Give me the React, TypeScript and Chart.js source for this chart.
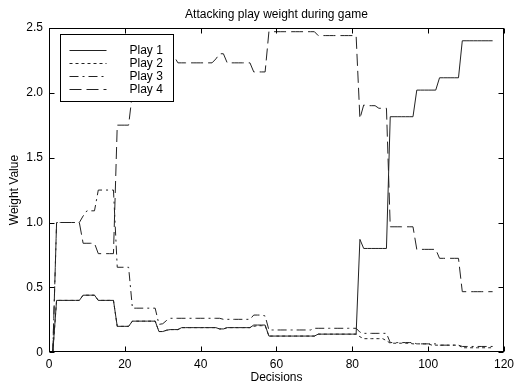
import React, { useEffect, useRef } from "react";
import { Chart, registerables } from "chart.js";

Chart.register(...registerables);

const seriesNames = ["Play 1", "Play 2", "Play 3", "Play 4"];

// values for decisions 1..117
const play1 = [
  0, 0.4, 0.4, 0.4, 0.4, 0.4, 0.4, 0.4, 0.44, 0.44,
  0.44, 0.44, 0.4, 0.4, 0.4, 0.4, 0.4, 0.2, 0.2, 0.2,
  0.2, 0.24, 0.24, 0.24, 0.24, 0.24, 0.24, 0.24, 0.16, 0.16,
  0.17, 0.175, 0.175, 0.175, 0.19, 0.19, 0.19, 0.19, 0.19, 0.19,
  0.19, 0.19, 0.19, 0.19, 0.18, 0.18, 0.19, 0.19, 0.19, 0.19,
  0.19, 0.19, 0.19, 0.21, 0.21, 0.21, 0.21, 0.125, 0.125, 0.125,
  0.125, 0.125, 0.125, 0.125, 0.125, 0.125, 0.125, 0.125, 0.125, 0.125,
  0.14, 0.14, 0.14, 0.14, 0.14, 0.14, 0.14, 0.14, 0.14, 0.14,
  0.14, 0.87, 0.8, 0.8, 0.8, 0.8, 0.8, 0.8, 0.8, 1.815,
  1.815, 1.815, 1.815, 1.815, 1.815, 1.815, 2.02, 2.02, 2.02, 2.02,
  2.02, 2.02, 2.115, 2.115, 2.115, 2.115, 2.115, 2.115, 2.4, 2.4,
  2.4, 2.4, 2.4, 2.4, 2.4, 2.4, 2.4,
];

const play2 = [
  0, 0.4, 0.4, 0.4, 0.4, 0.4, 0.4, 0.4, 0.44, 0.44,
  0.44, 0.44, 0.4, 0.4, 0.4, 0.4, 0.4, 0.2, 0.2, 0.2,
  0.2, 0.24, 0.24, 0.24, 0.24, 0.24, 0.24, 0.24, 0.16, 0.16,
  0.17, 0.175, 0.175, 0.175, 0.19, 0.19, 0.19, 0.19, 0.19, 0.19,
  0.19, 0.19, 0.19, 0.19, 0.18, 0.18, 0.19, 0.19, 0.19, 0.19,
  0.19, 0.19, 0.19, 0.2, 0.205, 0.205, 0.205, 0.125, 0.125, 0.125,
  0.125, 0.125, 0.125, 0.125, 0.125, 0.125, 0.125, 0.125, 0.125, 0.125,
  0.14, 0.14, 0.14, 0.14, 0.14, 0.14, 0.14, 0.14, 0.14, 0.14,
  0.14, 0.12, 0.105, 0.105, 0.105, 0.105, 0.105, 0.105, 0.09, 0.07,
  0.07, 0.07, 0.07, 0.07, 0.07, 0.065, 0.065, 0.065, 0.065, 0.065,
  0.055, 0.055, 0.055, 0.055, 0.055, 0.055, 0.055, 0.055, 0.035, 0.035,
  0.035, 0.035, 0.035, 0.035, 0.035, 0.035, 0.035,
];

const play3 = [
  0, 1.0, 1.0, 1.0, 1.0, 1.0, 1.0, 1.0, 1.05, 1.09,
  1.09, 1.09, 1.25, 1.25, 1.25, 1.25, 1.25, 0.655, 0.655, 0.655,
  0.655, 0.34, 0.34, 0.34, 0.34, 0.34, 0.34, 0.34, 0.215, 0.22,
  0.245, 0.262, 0.262, 0.262, 0.262, 0.262, 0.262, 0.262, 0.262, 0.262,
  0.262, 0.262, 0.262, 0.262, 0.262, 0.254, 0.254, 0.254, 0.254, 0.254,
  0.254, 0.254, 0.254, 0.287, 0.287, 0.287, 0.28, 0.172, 0.172, 0.172,
  0.172, 0.172, 0.172, 0.172, 0.172, 0.172, 0.172, 0.172, 0.172, 0.185,
  0.185, 0.185, 0.185, 0.185, 0.185, 0.185, 0.185, 0.185, 0.185, 0.185,
  0.185, 0.155, 0.146, 0.146, 0.146, 0.146, 0.146, 0.146, 0.146, 0.075,
  0.075, 0.075, 0.075, 0.075, 0.075, 0.075, 0.065, 0.065, 0.065, 0.065,
  0.065, 0.065, 0.055, 0.055, 0.055, 0.055, 0.055, 0.055, 0.045, 0.045,
  0.045, 0.045, 0.045, 0.045, 0.045, 0.045, 0.045,
];

const play4 = [
  0, 1.0, 1.0, 1.0, 1.0, 1.0, 1.0, 1.0, 0.84, 0.84,
  0.84, 0.84, 0.76, 0.76, 0.76, 0.76, 0.76, 1.75, 1.75, 1.75,
  1.75, 2.0, 2.2, 2.28, 2.28, 2.28, 2.28, 2.28, 2.28, 2.28,
  2.28, 2.28, 2.28, 2.23, 2.23, 2.23, 2.23, 2.23, 2.23, 2.23,
  2.23, 2.23, 2.23, 2.26, 2.3, 2.3, 2.23, 2.23, 2.23, 2.23,
  2.23, 2.23, 2.23, 2.16, 2.16, 2.16, 2.16, 2.47, 2.47, 2.47,
  2.47, 2.47, 2.47, 2.47, 2.47, 2.47, 2.47, 2.47, 2.47, 2.47,
  2.44, 2.44, 2.44, 2.44, 2.44, 2.44, 2.44, 2.44, 2.44, 2.44,
  2.44, 1.8, 1.905, 1.9, 1.9, 1.9, 1.88, 1.88, 1.88, 0.967,
  0.967, 0.967, 0.967, 0.967, 0.967, 0.967, 0.793, 0.793, 0.793, 0.793,
  0.793, 0.793, 0.724, 0.724, 0.724, 0.724, 0.724, 0.724, 0.467, 0.467,
  0.467, 0.467, 0.467, 0.467, 0.467, 0.467, 0.467,
];

const xTickValues = [0, 20, 40, 60, 80, 100, 120];
const yTickValues = [0, 0.5, 1, 1.5, 2, 2.5];

const titleText = "Attacking play weight during game";
const xTitle = "Decisions";
const yTitle = "Weight Value";

const FONT = "'Liberation Sans', Arial, Helvetica, sans-serif";
const LINE = "#222";
const dashes: number[][] = [[], [3, 3], [9, 4, 2, 4], [12, 5]];

const toPoints = (arr: number[]) => arr.map((v, i) => ({ x: i + 1, y: v }));

const framePlugin = {
  id: "matlabFrame",
  afterDatasetsDraw(chart: any) {
    const { ctx, chartArea, scales } = chart;
    const l = Math.round(chartArea.left) + 0.5;
    const r = Math.round(chartArea.right) - 0.5;
    const t = Math.round(chartArea.top) + 0.5;
    const b = Math.round(chartArea.bottom) - 0.5;
    ctx.save();
    ctx.strokeStyle = "#000";
    ctx.lineWidth = 1;
    ctx.setLineDash([]);
    ctx.strokeRect(l, t, r - l, b - t);
    const tl = 5;
    ctx.beginPath();
    xTickValues.forEach((v) => {
      const px = Math.round(scales.x.getPixelForValue(v)) + 0.5;
      ctx.moveTo(px, b);
      ctx.lineTo(px, b - tl);
      ctx.moveTo(px, t);
      ctx.lineTo(px, t + tl);
    });
    yTickValues.forEach((v) => {
      const py = Math.round(scales.y.getPixelForValue(v)) + 0.5;
      ctx.moveTo(l, py);
      ctx.lineTo(l + tl, py);
      ctx.moveTo(r, py);
      ctx.lineTo(r - tl, py);
    });
    ctx.stroke();
    ctx.restore();
  },
};

const legendPlugin = {
  id: "matlabLegend",
  afterDraw(chart: any) {
    const { ctx, chartArea } = chart;
    const bx = Math.round(chartArea.left + 11) + 0.5;
    const by = Math.round(chartArea.top + 6.5) + 0.5;
    const bw = 113;
    const bh = 67;
    ctx.save();
    ctx.fillStyle = "#fff";
    ctx.fillRect(bx, by, bw, bh);
    ctx.strokeStyle = "#000";
    ctx.lineWidth = 1;
    ctx.setLineDash([]);
    ctx.strokeRect(bx, by, bw, bh);
    chart.data.datasets.forEach((ds: any, i: number) => {
      const ry = Math.round(by + 15 + i * 13.3) + 0.5;
      ctx.strokeStyle = LINE;
      ctx.setLineDash(ds.borderDash || []);
      ctx.beginPath();
      ctx.moveTo(bx + 9, ry);
      ctx.lineTo(bx + 46, ry);
      ctx.stroke();
      ctx.setLineDash([]);
      ctx.fillStyle = "#000";
      ctx.font = `12px ${FONT}`;
      ctx.textBaseline = "middle";
      ctx.textAlign = "left";
      ctx.fillText(ds.label, bx + 69, ry);
    });
    ctx.restore();
  },
};

export default function App() {
  const ref = useRef<HTMLCanvasElement | null>(null);

  useEffect(() => {
    document.body.style.margin = "0";
    const canvas = ref.current;
    if (!canvas) return;
    const seriesData = [play1, play2, play3, play4];
    const chart = new Chart(canvas, {
      type: "line",
      data: {
        datasets: seriesData.map((arr, i) => ({
          label: seriesNames[i],
          data: toPoints(arr),
          borderColor: LINE,
          borderWidth: 1,
          borderDash: dashes[i],
          pointRadius: 0,
          fill: false,
          tension: 0,
        })),
      },
      options: {
        responsive: false,
        animation: false,
        devicePixelRatio: 1,
        layout: { padding: { left: 0, right: 10, top: 0, bottom: 0 } },
        plugins: {
          legend: { display: false },
          tooltip: { enabled: false },
          title: {
            display: true,
            text: titleText,
            color: "#000",
            fullSize: false,
            font: { family: FONT, size: 12, weight: "normal" },
            padding: { top: 7, bottom: 6.4 },
          },
        },
        scales: {
          x: {
            type: "linear",
            min: 0,
            max: 120,
            afterBuildTicks: (s: any) => {
              s.ticks = xTickValues.map((v) => ({ value: v }));
            },
            afterFit: (s: any) => {
              s.height = 32.7;
            },
            grid: { display: false, drawTicks: false },
            border: { display: false },
            ticks: {
              color: "#000",
              padding: 5,
              maxRotation: 0,
              font: { family: FONT, size: 12 },
            },
            title: {
              display: true,
              text: xTitle,
              color: "#000",
              font: { family: FONT, size: 12 },
              padding: { top: 0, bottom: 0 },
            },
          },
          y: {
            type: "linear",
            min: 0,
            max: 2.5,
            afterBuildTicks: (s: any) => {
              s.ticks = yTickValues.map((v) => ({ value: v }));
            },
            afterFit: (s: any) => {
              s.width = 49;
            },
            grid: { display: false, drawTicks: false },
            border: { display: false },
            ticks: {
              color: "#000",
              padding: 6,
              font: { family: FONT, size: 12 },
            },
            title: {
              display: true,
              text: yTitle,
              color: "#000",
              font: { family: FONT, size: 12 },
              padding: { top: 7, bottom: 0 },
            },
          },
        },
      },
      plugins: [framePlugin, legendPlugin],
    });
    return () => chart.destroy();
  }, []);

  return (
    <div style={{ position: "absolute", left: 0, top: 0, width: 519, height: 385, background: "#fff" }}>
      <canvas ref={ref} width={519} height={385} />
    </div>
  );
}
